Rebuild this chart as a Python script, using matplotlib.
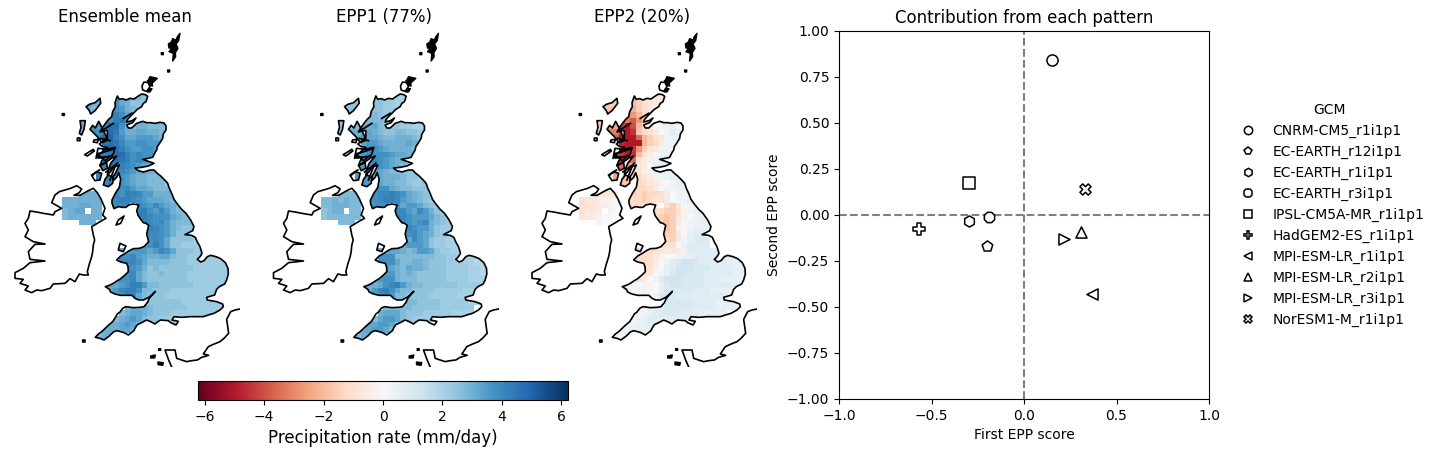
import matplotlib
matplotlib.use("Agg")
import matplotlib.pyplot as plt
import numpy as np
from matplotlib.colors import Normalize
from matplotlib.cm import ScalarMappable
from matplotlib.path import Path
from matplotlib.patches import PathPatch
from matplotlib.lines import Line2D

# ---------- scatter data ----------
GCMS = ["CNRM-CM5_r1i1p1", "EC-EARTH_r12i1p1", "EC-EARTH_r1i1p1", "EC-EARTH_r3i1p1",
        "IPSL-CM5A-MR_r1i1p1", "HadGEM2-ES_r1i1p1", "MPI-ESM-LR_r1i1p1",
        "MPI-ESM-LR_r2i1p1", "MPI-ESM-LR_r3i1p1", "NorESM1-M_r1i1p1"]
EPP1_SCORE = [0.15, -0.20, -0.30, -0.19, -0.30, -0.565, 0.37, 0.31, 0.215, 0.33]
EPP2_SCORE = [0.84, -0.17, -0.03, -0.01, 0.175, -0.075, -0.43, -0.09, -0.13, 0.14]
MARKERS = ["o", "p", "h", "8", "s", "P", "<", "^", ">", "X"]
MAP_TITLES = ["Ensemble mean", "EPP1 (77%)", "EPP2 (20%)"]

# ---------- coast outlines (map units) ----------
GB = [(352,218),(358,228),(368,226),(378,230),(390,225),(402,227),(415,218),(425,212),(436,214),(443,219),(438,235),
      (430,240),(425,250),(412,258),(400,270),(392,278),(383,288),(380,296),(396,292),(408,284),(398,298),(380,305),
      (385,314),(395,314),(410,300),(428,294),(440,298),(452,298),(465,300),(480,297),(492,299),(498,308),(498,320),
      (490,332),(488,345),(480,358),(472,370),(470,380),(465,388),(458,402),(445,405),(428,408),(445,414),(462,420),
      (445,428),(425,432),(405,434),(415,442),(430,446),(450,440),(462,440),(472,450),(482,458),(492,468),(503,480),
      (508,495),(515,510),(522,528),(532,542),(545,558),(558,570),(572,590),(582,610),(578,622),(555,634),(575,636),
      (586,642),(592,656),(600,670),(606,690),(600,700),(592,708),(602,716),(612,712),(622,700),(632,696),(648,700),
      (662,706),(676,718),(684,735),(685,752),(680,770),(674,782),(658,790),(650,798),(644,815),(620,822),(622,830),
      (650,835),(668,842),(670,850),(660,860),(642,870),(625,875),(610,880),(590,880),(570,880),(545,882),(522,880),
      (516,890),(535,894),(528,905),(512,898),(505,892),(482,890),(472,896),(465,902),(452,895),(440,890),(425,898),
      (412,904),(405,915),(402,922),(385,935),(372,928),(362,925),(350,922),(340,926),(328,938),(312,950),(300,945),
      (286,942),(295,932),(305,925),(325,906),(338,895),(345,884),(352,872),(360,866),(368,855),(378,850),(400,853),
      (420,852),(432,850),(442,838),(448,825),(456,815),(466,804),(455,815),(446,822),(430,830),(416,830),(405,825),
      (396,816),(380,816),(362,816),(345,812),(332,806),(328,798),(316,790),(330,785),(340,780),(352,772),(362,766),
      (375,755),(385,745),(384,730),(380,720),(362,716),(350,710),(362,698),(376,690),(388,682),(400,676),(418,675),
      (432,670),(446,655),(440,632),(446,606),(438,600),(430,598),(420,585),(414,576),(410,562),(416,545),(400,542),
      (386,545),(378,552),(368,552),(355,550),(342,556),(336,540),(336,530),(346,510),(358,492),(362,468),(356,448),
      (350,462),(342,470),(338,462),(346,450),(358,425),(340,432),(332,445),(322,455),(326,436),(332,420),(350,398),
      (336,404),(325,412),(312,420),(300,428),(304,415),(312,402),(300,402),(292,398),(306,386),(322,372),(308,370),
      (298,362),(310,352),(322,345),(322,332),(322,322),(312,322),(300,326),(308,312),(318,298),(326,288),(335,280),
      (338,265),(346,250),(345,238)]
IRELAND = [(230,487),(245,497),(238,508),(222,516),(240,516),(265,502),(280,495),(292,508),(302,525),(315,555),
           (308,575),(318,585),(300,595),(292,600),(275,610),(280,635),(284,650),(280,665),(278,685),(275,700),
           (268,722),(262,745),(265,755),(250,755),(238,752),(225,775),(210,766),(195,780),(160,782),(150,795),
           (125,802),(110,800),(95,808),(75,800),(85,788),(60,780),(70,768),(45,765),(45,748),(70,735),(90,718),
           (135,713),(90,708),(85,685),(105,663),(135,662),(100,655),(75,640),(85,620),(75,600),(85,585),(90,563),
           (110,566),(130,570),(160,575),(165,565),(185,555),(155,538),(165,515),(178,505),(195,500),(212,495)]
ISLANDS = [
    [(300,225),(302,240),(285,262),(272,272),(268,262),(258,250),(268,243),(285,238)],
    [(240,292),(256,292),(252,318),(245,335),(238,330),(243,312)],
    [(296,294),(302,305),(318,338),(320,352),(306,358),(292,340),(270,318),(278,306),(286,314)],
    [(282,350),(295,348),(292,358),(280,356)],
    [(232,344),(240,344),(240,352),(232,352)],
    [(280,378),(283,383),(262,398),(254,394)],
    [(294,375),(320,378),(345,372),(340,392),(315,412),(300,398),(288,405)],
    [(290,445),(305,450),(300,470),(285,472),(276,458)],
    [(325,455),(340,462),(338,480),(325,490),(310,485),(315,468)],
    [(300,425),(320,418),(322,435),(308,442)],
    [(372,578),(362,600),(348,605),(355,590)],
    [(360,660),(378,668),(370,685),(355,680)],
    [(187,271),(193,271),(193,276),(187,276)],
    [(248,950),(255,950),(255,956),(248,956)],
    [(432,176),(445,178),(450,190),(440,204),(428,200),(426,188)],
]
DARK_ISLANDS = [
    [(540,30),(532,40),(528,50),(518,46),(514,56),(505,62),(507,74),(515,75),(507,85),(520,90),(518,113),(527,100),
     (526,88),(534,75),(528,62),(536,52)],
    [(450,160),(472,165),(458,178),(452,172),(445,170)],
    [(442,172),(456,178),(458,188),(448,186)],
    [(446,196),(456,196),(450,206),(442,206)],
    [(484,88),(490,88),(490,94),(484,94)],
    [(503,140),(509,140),(509,146),(503,146)],
    [(452,998),(466,995),(464,1004),(452,1004)],
    [(474,1016),(490,1018),(488,1026),(474,1024)],
    [(476,976),(482,976),(482,981),(476,981)],
]
SPURS = [[(340,300),(312,318)], [(330,352),(302,345)], [(345,375),(295,392)], [(352,420),(318,446)],
         [(345,430),(330,470)], [(370,285),(395,270)], [(296,404),(336,398)], [(275,455),(298,440)]]
FRANCE = [(720,857),(705,860),(692,865),(680,888),(686,930),(672,945),(660,955),(640,963),(625,970),(610,992),(626,996),
          (605,1002),(592,1010),(575,1012),(560,1015),(530,1005),(525,980),(495,980),(506,1010),(518,1038)]

# ---------- gridded fields, one string per row, north to south ----------
# ENSEMBLE and EPP1: hex digit h means 1.5 + 0.25*h mm/day; '.' is no data
ENSEMBLE = [
".........9775544",
"....866..9764433",
"....755..986544",
"....66..bb9766",
"...6...a9bcb85544444",
"...6.88bdd9656655544",
"...6.99cdc86677665544",
"...6.aadeb9778887655",
".......cdca8899887655",
".....a.cddb9889987755",
".....aabcddb9a9987755",
".....aaccdcb9a9877555",
".....aabdcba98766655",
".....aabcba9877665555",
"......bbaa98766555555",
".......aba98766555455",
".......99a9a8776555555",
"...6666.aa9bba8866665555",
"6666666.aabba9877765444",
"6667766.aaaa.a98a8765444",
"5677.66......bb98a8655444",
"5666666......cba999765544",
"...666.......bba9a8655544",
"..............9ba98654444",
"...............aa986444333",
"...............9a974444333",
"..............89b974433333",
"..........7788878a974443333333",
"..........99a876677544333333333",
"..........aaa975555444333333333",
"...........a9864544444433333333",
"..........99a754454444333333333",
"........7899a75444444433333333",
".......77789bb85544444433333333",
"........78abb955444333333333",
".........78aa7544433333333333",
"...............444444333333333",
"...........5666544444433333333",
"..........5677654443333333333",
".........56787544333333333",
".......6667875443333",
"......566677655",
".....556666",
]
EPP1 = [
".........4433222",
"....444..4433222",
"....444..443322",
"....44..55433333",
"...4...55554433222",
"...4.5566754443322233",
"...4.667765445544333",
"...4.668776556665433",
".......7887666676544",
".....7.899876666544",
".....778999987765444",
".....7799a98766544",
".....7789998765443344",
".....778987655444344",
"......88877666544334",
".......887766554334444",
".......88a9976554444",
"...5555.99aaba97654444",
"5565655.99abba87654344",
"5566655.9999.978875433",
"4566.55......aa87a864333",
"4555555......ba9888754333",
"...555.......aa989a65433",
"..............8a9886433",
"...............9a876433322",
"...............7a87433222",
"..............68887433222",
"..........677765688743322222",
"..........99955555554433322211",
"..........999755665444333221111",
"...........8765766544433332211",
"..........888656544444333322111",
"........57899655544444333322222",
".......56679ab8655444444333322",
"........68ab97554444333332222",
".........79a8554444333332222",
"...............55444433333222",
"...........5555544444333333",
"..........67775444333332222",
".........5788754333333333",
".......77788754333",
"......56788755",
".....556666",
]
# EPP2: digit d means +0.25*d; letter a..t means -0.25, -0.5, ... -5; '.' is no data
EPP2 = [
".........ifdcbbb",
"....fff..hfdcbaa",
"....ggf..ifdcaa",
"....ff..lkheedd",
"...e...omokgccb01110",
"...f.jjqtphdb0122100",
"...f.mmstrgedb013211",
"...f.ootttnhfdc12211",
".......sttthfeb11111",
".....p.ttrkfcb111111",
".....oortrhdb012111",
".....nnrqndba1231",
".....mmnkgcb022112",
".....lljgeca1122233",
"......jhgfecb112233",
".......ggfedcba012233",
".......ffeeedb01122",
"...cccb.ffefeedb01122",
"dcbbaa0.eeefecdb011222",
"ddcbba0.ddedca.dfc0122",
"dccb.a0......deffda1222",
"cbba000......efgfca01222",
"...a00.......dfgfb011222",
"..............dgfa012223",
"...............ffc0233",
"...............efb12344",
"..............cdd023333",
"..........ededcbcb13333333333",
"..........eedba0012233333332222",
"..........eedb013455433333222",
"...........dda0235554443333222",
"..........cdc01245544433333222",
"........a0cb013555444433322222",
".......aaa0aa024554444333332222",
"........1011a0244444333222222",
".........00b0144433333333333",
"...............4444433332222222",
"...........12334444433332222",
"..........1123444433322222",
".........11233333333322222",
".......11122333333",
"......1112222",
".....11111",
]
FIELDS = [ENSEMBLE, EPP1, EPP2]

VMAX = 6.22
CELL = 17
GRID_X0, GRID_Y0 = 187, 215
NCOLS, NROWS = 31, 43


def decode(rows, signed):
    out = np.full((NROWS, NCOLS), np.nan)
    for j, row in enumerate(rows):
        for i, c in enumerate(row[:NCOLS]):
            if c == ".":
                continue
            if signed:
                out[j, i] = 0.25 * int(c) if c.isdigit() else -0.25 * (ord(c) - 96)
            else:
                out[j, i] = 1.5 + 0.25 * int(c, 16)
    return out


def compound(polys):
    verts, codes = [], []
    for p in polys:
        verts += list(p) + [p[0]]
        codes += [Path.MOVETO] + [Path.LINETO] * (len(p) - 1) + [Path.CLOSEPOLY]
    return Path(verts, codes)


W, H = 1440, 454
fig = plt.figure(figsize=(14.4, 4.54), dpi=100)


def ax_px(x0, y0, x1, y1):
    return fig.add_axes([x0 / W, 1 - y1 / H, (x1 - x0) / W, (y1 - y0) / H])


norm = Normalize(-VMAX, VMAX)
land = compound([GB, IRELAND] + ISLANDS)
dark = compound(DARK_ISLANDS)
xe = GRID_X0 + CELL * np.arange(NCOLS + 1)
ye = GRID_Y0 + CELL * np.arange(NROWS + 1)
for k, (rows, title) in enumerate(zip(FIELDS, MAP_TITLES)):
    left = 10 + 258.5 * k
    ax = ax_px(left, 30, left + 230, 367)
    ax.set_xlim(30, 720)
    ax.set_ylim(1031, 20)
    ax.axis("off")
    ax.set_title(title, fontsize=12, pad=6)
    mesh = ax.pcolormesh(xe, ye, np.ma.masked_invalid(decode(rows, k == 2)),
                         cmap="RdBu", norm=norm, linewidth=0)
    mesh.set_clip_path(PathPatch(land, transform=ax.transData))
    ax.add_patch(PathPatch(land, fc="none", ec="black", lw=1.2, joinstyle="round"))
    ax.add_patch(PathPatch(dark, fc="black", ec="black", lw=1.0, joinstyle="round"))
    for s in SPURS:
        sx, sy = zip(*s)
        ax.plot(sx, sy, color="black", lw=1.3)
    fx, fy = zip(*FRANCE)
    ax.plot(fx, fy, color="black", lw=1.2)

cax = ax_px(198, 381, 568, 400)
cb = fig.colorbar(ScalarMappable(norm=norm, cmap="RdBu"), cax=cax, orientation="horizontal")
cb.set_ticks(np.arange(-6, 7, 2))
cb.set_label("Precipitation rate (mm/day)", fontsize=12)
cb.ax.tick_params(labelsize=10)

ax = ax_px(839, 31, 1209, 399)
ax.axhline(0, color="gray", ls="--", lw=1.5, zorder=1)
ax.axvline(0, color="gray", ls="--", lw=1.5, zorder=1)
for x, y, m in zip(EPP1_SCORE, EPP2_SCORE, MARKERS):
    ax.scatter([x], [y], marker=m, s=64, facecolor="white", edgecolor="black", linewidth=1.1, zorder=3)
ax.set_xlim(-1, 1)
ax.set_ylim(-1, 1)
ax.set_xticks(np.arange(-1, 1.01, 0.5))
ax.set_yticks(np.arange(-1, 1.01, 0.25))
ax.set_xlabel("First EPP score", fontsize=10)
ax.set_ylabel("Second EPP score", fontsize=10)
ax.set_title("Contribution from each pattern", fontsize=12, pad=6)

handles = [Line2D([], [], ls="", marker=m, markersize=6, mfc="white", mec="black", mew=1.1) for m in MARKERS]
ax.legend(handles, GCMS, title="GCM", frameon=False, fontsize=10, title_fontsize=10,
          loc="center left", bbox_to_anchor=(1.033, 0.5), labelspacing=0.5)

fig.savefig("out.png", dpi=100)
